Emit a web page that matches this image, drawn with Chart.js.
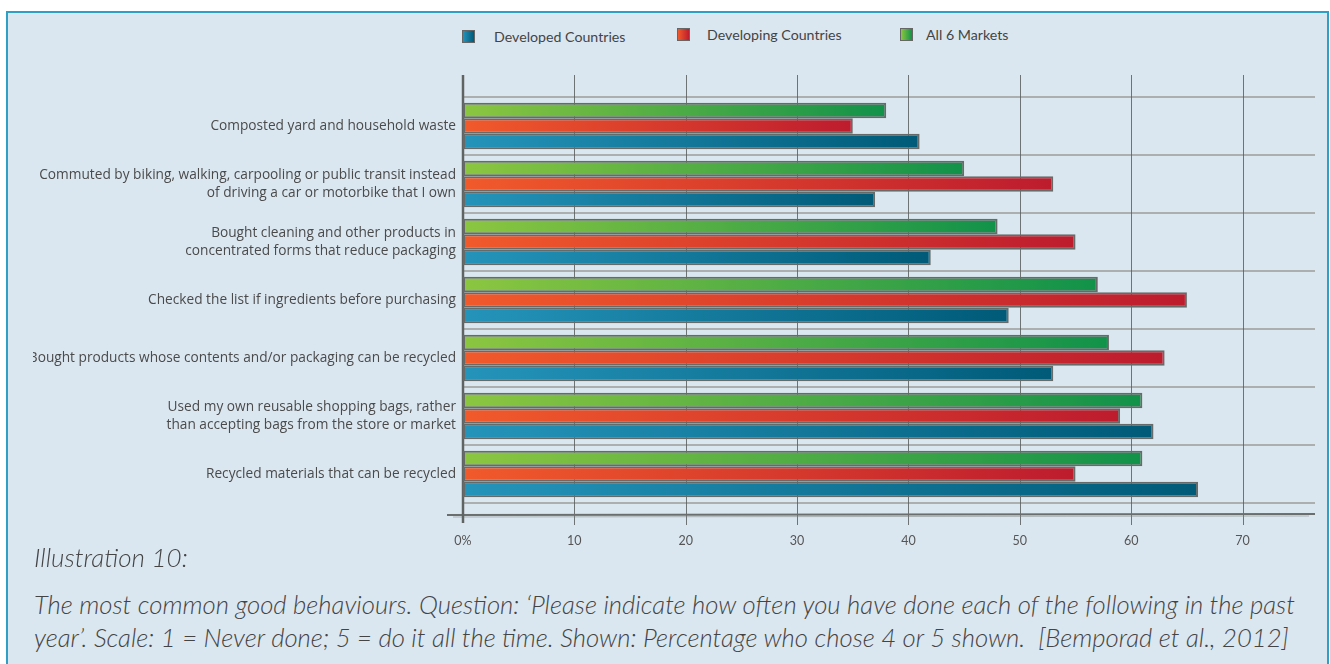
<!DOCTYPE html>
<html>
<head>
<meta charset="utf-8">
<script src="https://cdn.jsdelivr.net/npm/chart.js@4.4.1/dist/chart.umd.min.js"></script>
<style>
    html, body { margin: 0; padding: 0; background: #ffffff; }
    body { width: 1330px; height: 664px; position: relative; overflow: hidden; font-family: Lato, "Open Sans", sans-serif; }
    .panel {
        position: absolute; left: 6px; top: 11px; width: 1319px; height: 700px;
        border: 2px solid #2f9fc6; background: #dbe7f0;
    }
    .legend-item { position: absolute; font-size: 14.2px; color: #444; }
    .legend-box { position: absolute; width: 13px; height: 13px; border: 1px solid #666; box-sizing: border-box; }
    #chartWrap { position: absolute; left: 33px; top: 60px; width: 1290px; height: 500px; }
    .caption { position: absolute; left: 34px; color: #444; font-style: italic; font-weight: 300; white-space: nowrap; }
</style>
</head>
<body>
<div class="panel"></div>

<div id="legend"></div>

<div id="chartWrap"><canvas id="behaviourChart"></canvas></div>

<div class="caption" style="top: 540px; font-size: 26px; line-height: 34px;">Illustration 10:</div>
<div class="caption" style="top: 588px; font-size: 25.7px; line-height: 33px;">The most common good behaviours. Question: ‘Please indicate how often you have done each of the following in the past<br>year’. Scale: 1 = Never done; 5 = do it all the time. Shown: Percentage who chose 4 or 5 shown.&nbsp; [Bemporad et al., 2012]</div>

<script>
// Survey results, percent who chose 4 or 5
const behaviours = [
    'Composted yard and household waste',
    ['Commuted by biking, walking, carpooling or public transit instead', 'of driving a car or motorbike that I own'],
    ['Bought cleaning and other products in', 'concentrated forms that reduce packaging'],
    'Checked the list if ingredients before purchasing',
    'Bought products whose contents and/or packaging can be recycled',
    ['Used my own reusable shopping bags, rather', 'than accepting bags from the store or market'],
    'Recycled materials that can be recycled'
];
const developed = [41, 37, 42, 49, 53, 62, 66];
const developing = [35, 53, 55, 65, 63, 59, 55];
const allMarkets = [38, 45, 48, 57, 58, 61, 61];
const xTicks = [0, 10, 20, 30, 40, 50, 60, 70];

// left colour -> right colour of each bar
const palette = {
    developed: ['#2594ba', '#005a78'],
    developing: ['#f15a2b', '#bd1c2e'],
    all: ['#8cc640', '#11924a']
};

// legend, drawn in the same order as the reference
const legendItems = [
    { label: 'Developed Countries', colors: palette.developed, box: 462, text: 494, top: 28 },
    { label: 'Developing Countries', colors: palette.developing, box: 677, text: 707, top: 26 },
    { label: 'All 6 Markets', colors: palette.all, box: 900, text: 926, top: 26 }
];
const legendEl = document.getElementById('legend');
legendItems.forEach(item => {
    const box = document.createElement('div');
    box.className = 'legend-box';
    box.style.left = item.box + 'px';
    box.style.top = (item.top + 2) + 'px';
    box.style.background = `linear-gradient(to right, ${item.colors[0]}, ${item.colors[1]})`;
    legendEl.appendChild(box);
    const txt = document.createElement('div');
    txt.className = 'legend-item';
    txt.style.left = item.text + 'px';
    txt.style.top = item.top + 'px';
    txt.textContent = item.label;
    legendEl.appendChild(txt);
});

function barGradient(colors) {
    return function(context) {
        const chart = context.chart;
        const x = chart.scales && chart.scales.x;
        if (!x || !chart.chartArea || context.raw === undefined) return colors[1];
        const x0 = x.getPixelForValue(0);
        const x1 = x.getPixelForValue(context.raw);
        const g = chart.ctx.createLinearGradient(x0, 0, Math.max(x1, x0 + 1), 0);
        g.addColorStop(0, colors[0]);
        g.addColorStop(1, colors[1]);
        return g;
    };
}

// hand-drawn looking axes and vertical grid lines
const sketchAxes = {
    id: 'sketchAxes',
    beforeDatasetsDraw(chart) {
        const { ctx, chartArea, scales } = chart;
        const x = scales.x;
        const top = chartArea.top - 22;
        const bottom = chartArea.bottom + 12;
        ctx.save();
        // vertical grid
        xTicks.forEach(v => {
            if (v === 0) return;
            const px = Math.round(x.getPixelForValue(v)) + 0.5;
            ctx.strokeStyle = 'rgba(90, 95, 95, 0.85)';
            ctx.lineWidth = 1;
            ctx.beginPath();
            ctx.moveTo(px, top);
            ctx.lineTo(px, chartArea.bottom + 22);
            ctx.stroke();
        });
        // bottom axis
        ctx.strokeStyle = '#6a6e6c';
        ctx.lineWidth = 2;
        ctx.beginPath();
        ctx.moveTo(chartArea.left - 16, bottom);
        ctx.lineTo(chartArea.right, bottom - 1);
        ctx.stroke();
        ctx.strokeStyle = 'rgba(120, 125, 122, 0.5)';
        ctx.lineWidth = 1;
        ctx.beginPath();
        ctx.moveTo(chartArea.left - 10, bottom + 2);
        ctx.lineTo(chartArea.right - 6, bottom + 1);
        ctx.stroke();
        // left axis
        const x0 = x.getPixelForValue(0);
        ctx.strokeStyle = '#5f6361';
        ctx.lineWidth = 2.5;
        ctx.beginPath();
        ctx.moveTo(x0, top);
        ctx.lineTo(x0, chartArea.bottom + 20);
        ctx.stroke();
        ctx.restore();
    }
};

const ctx = document.getElementById('behaviourChart').getContext('2d');
const behaviourChart = new Chart(ctx, {
    type: 'bar',
    data: {
        labels: behaviours,
        datasets: [
            { label: 'All 6 Markets', data: allMarkets, backgroundColor: barGradient(palette.all) },
            { label: 'Developing Countries', data: developing, backgroundColor: barGradient(palette.developing) },
            { label: 'Developed Countries', data: developed, backgroundColor: barGradient(palette.developed) }
        ]
    },
    options: {
        indexAxis: 'y',
        responsive: true,
        maintainAspectRatio: false,
        animation: false,
        layout: { padding: { top: 37, right: 8, left: 0, bottom: 0 } },
        datasets: {
            bar: {
                categoryPercentage: 0.8,
                barPercentage: 1.0,
                borderColor: '#666b69',
                borderWidth: 2,
                borderSkipped: false
            }
        },
        scales: {
            x: {
                min: 0,
                max: 76.5,
                afterBuildTicks: scale => {
                    scale.ticks = xTicks.map(v => ({ value: v }));
                },
                afterFit: scale => { scale.height = 57; },
                grid: { display: false, drawTicks: false },
                border: { display: false },
                ticks: {
                    padding: 30,
                    color: '#555',
                    font: { family: 'Lato, "Open Sans", sans-serif', size: 12.5 },
                    callback: v => (v === 0 ? '0%' : v)
                }
            },
            y: {
                afterFit: scale => { scale.width = 430; },
                grid: {
                    offset: true,
                    drawTicks: false,
                    lineWidth: 2,
                    color: ctx => (ctx.index === behaviours.length ? 'rgba(0,0,0,0)' : 'rgba(165, 168, 166, 0.9)')
                },
                border: { display: false },
                ticks: {
                    padding: 7,
                    color: '#4a4a4a',
                    font: { family: '"Open Sans", Lato, sans-serif', size: 13.7, lineHeight: 1.35 }
                }
            }
        },
        plugins: {
            legend: { display: false },
            tooltip: { enabled: false }
        }
    },
    plugins: [sketchAxes]
});
</script>
</body>
</html>
